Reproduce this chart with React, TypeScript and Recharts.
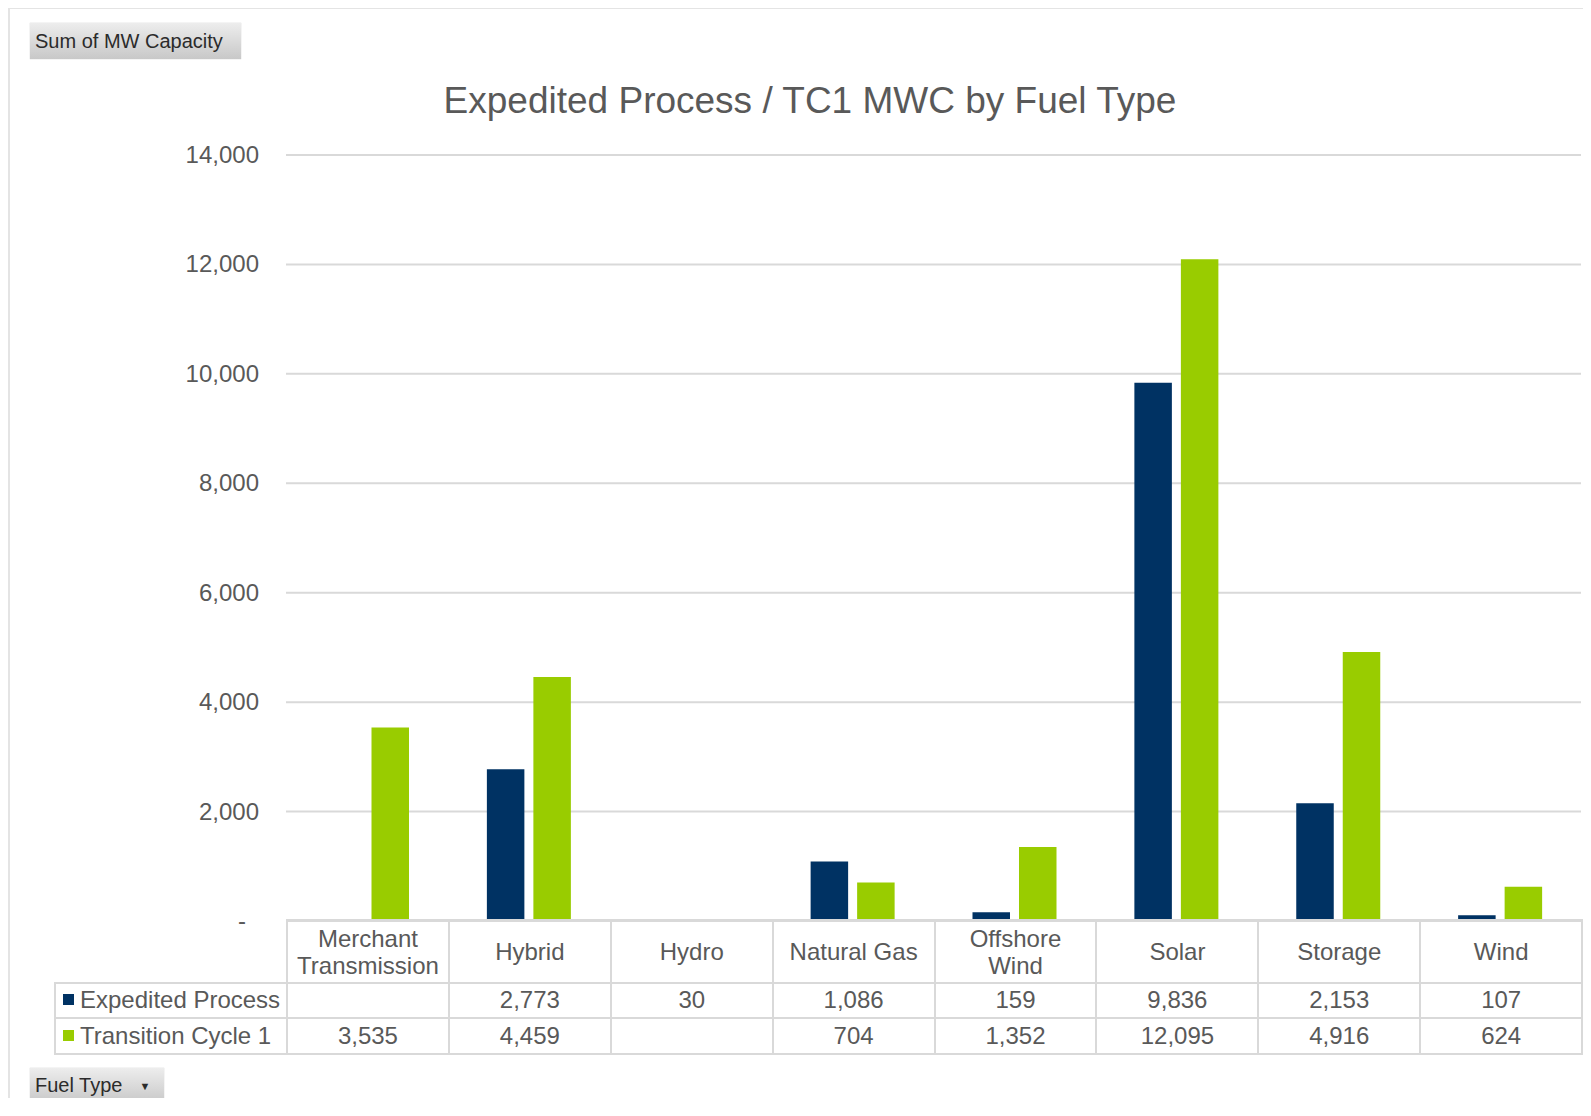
import React from "react";
import { BarChart, Bar, XAxis, YAxis, CartesianGrid } from "recharts";

// Expedited Process / TC1 MWC by Fuel Type — pivot chart with data table
const fuelTypes = [
  "Merchant Transmission",
  "Hybrid",
  "Hydro",
  "Natural Gas",
  "Offshore Wind",
  "Solar",
  "Storage",
  "Wind",
];
const fuelLabels = [
  ["Merchant", "Transmission"],
  ["Hybrid"],
  ["Hydro"],
  ["Natural Gas"],
  ["Offshore", "Wind"],
  ["Solar"],
  ["Storage"],
  ["Wind"],
];
const expedited: (number | null)[] = [null, 2773, 30, 1086, 159, 9836, 2153, 107];
const transition: (number | null)[] = [3535, 4459, null, 704, 1352, 12095, 4916, 624];
const yTicks = [0, 2000, 4000, 6000, 8000, 10000, 12000, 14000];

const NAVY = "#003263";
const GREEN = "#99cc00";
const TEXT = "#595959";
const GRID = "#d9d9d9";
const FONT = "'Liberation Sans', Arial, sans-serif";

const data = fuelTypes.map((name, i) => ({
  name,
  expedited: expedited[i],
  transition: transition[i],
}));

const fmt = (v: number | null) => (v == null ? "" : v.toLocaleString("en-US"));

function YTick(props: any) {
  const { x, y, payload } = props;
  const zero = payload.value === 0;
  return (
    <text
      x={zero ? x - 13 : x}
      y={y}
      dy={8}
      textAnchor="end"
      fill={TEXT}
      fontSize={24}
      fontFamily={FONT}
    >
      {zero ? "-" : payload.value.toLocaleString("en-US")}
    </text>
  );
}

const btn: React.CSSProperties = {
  position: "absolute",
  height: 36,
  background: "linear-gradient(#ededed, #c8c8c8)",
  color: "#2b2b2b",
  fontFamily: FONT,
  fontSize: 20,
  lineHeight: "36px",
  paddingLeft: 5,
  boxSizing: "border-box",
  boxShadow: "0 0 1px #bbb",
};

const cell: React.CSSProperties = {
  border: `2px solid ${GRID}`,
  padding: 0,
  textAlign: "center",
  color: TEXT,
  fontSize: 24,
  fontFamily: FONT,
};

const hatch: React.CSSProperties = {
  position: "absolute",
  top: -8,
  height: 6,
  background:
    "repeating-linear-gradient(60deg, #dcdcdc 0 2px, transparent 2px 9px)",
};

export default function App() {
  const colW = 161.9;
  return (
    <div style={{ position: "relative", width: 1575, height: 1090, background: "#fff" }}>
      <div style={{ ...hatch, left: 1370, width: 205 }} />
      <div
        style={{
          position: "absolute",
          left: -1,
          top: -2,
          width: 1583,
          height: 1108,
          borderLeft: "3px solid #e4e4e4",
          borderTop: "3px solid #e4e4e4",
          boxSizing: "border-box",
        }}
      />
      <div style={{ ...btn, left: 22, top: 15, width: 211 }}>Sum of MW Capacity</div>
      <div
        style={{
          position: "absolute",
          left: 0,
          width: 1604,
          top: 71,
          textAlign: "center",
          color: TEXT,
          fontFamily: FONT,
          fontSize: 37,
          lineHeight: "44px",
        }}
      >
        Expedited Process / TC1 MWC by Fuel Type
      </div>
      <div style={{ position: "absolute", left: 0, top: 0, height: 1000, lineHeight: 0 }}>
        <BarChart
          width={1580}
          height={1000}
          data={data}
          margin={{ top: 147, right: 7, bottom: 87, left: 178 }}
          barSize={37.5}
          barGap={9}
        >
          <CartesianGrid vertical={false} stroke={GRID} strokeWidth={2} />
          <XAxis dataKey="name" hide />
          <YAxis
            width={100}
            domain={[0, 14000]}
            ticks={yTicks}
            axisLine={false}
            tickLine={false}
            tickSize={0}
            tickMargin={27}
            tick={<YTick />}
          />
          <Bar dataKey="expedited" fill={NAVY} isAnimationActive={false} />
          <Bar dataKey="transition" fill={GREEN} isAnimationActive={false} />
        </BarChart>
      </div>
      <table
        style={{
          position: "absolute",
          left: 46,
          top: 911,
          borderCollapse: "collapse",
          tableLayout: "fixed",
          width: 232 + colW * 8,
          background: "transparent",
        }}
      >
        <colgroup>
          <col style={{ width: 232 }} />
          {fuelTypes.map((f) => (
            <col key={f} style={{ width: colW }} />
          ))}
        </colgroup>
        <tbody>
          <tr style={{ height: 62 }}>
            <td style={{ border: "none" }} />
            {fuelLabels.map((lines, i) => (
              <td key={i} style={{ ...cell, lineHeight: "27px", borderTopWidth: 3 }}>
                {lines.map((l) => (
                  <div key={l}>{l}</div>
                ))}
              </td>
            ))}
          </tr>
          {[
            { label: "Expedited Process", color: NAVY, vals: expedited },
            { label: "Transition Cycle 1", color: GREEN, vals: transition },
          ].map((row) => (
            <tr key={row.label} style={{ height: 35.5 }}>
              <td style={{ ...cell, textAlign: "left", paddingLeft: 7, whiteSpace: "nowrap" }}>
                <span
                  style={{
                    display: "inline-block",
                    width: 11,
                    height: 11,
                    background: row.color,
                    marginRight: 6,
                    verticalAlign: "middle",
                    position: "relative",
                    top: -2,
                  }}
                />
                {row.label}
              </td>
              {row.vals.map((v, i) => (
                <td key={i} style={cell}>
                  {fmt(v)}
                </td>
              ))}
            </tr>
          ))}
        </tbody>
      </table>
      <div style={{ ...btn, left: 22, top: 1060, width: 134, height: 35, lineHeight: "35px" }}>
        Fuel Type
        <span style={{ fontSize: 11, marginLeft: 17, position: "relative", top: -2 }}>▼</span>
      </div>
    </div>
  );
}
